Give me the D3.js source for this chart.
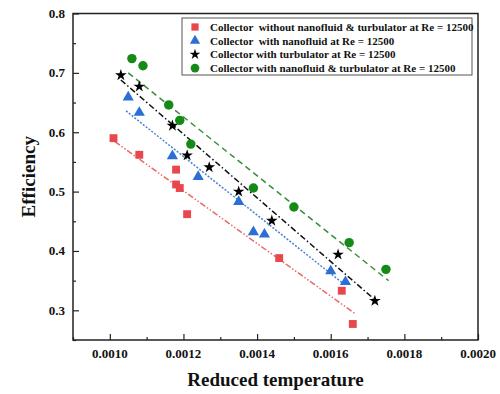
<!DOCTYPE html>
<html lang="en">
<head>
<meta charset="UTF-8">
<title>Efficiency vs reduced temperature</title>
<script src="https://d3js.org/d3.v7.min.js"></script>
<style>
  body { margin: 0; background: #fff; }
  svg text { font-family: "Liberation Serif", "Times New Roman", serif; font-weight: bold; fill: #111; }
  .frame { fill: none; stroke: #222; stroke-width: 1.5px; }
  .tick line { stroke: #222; stroke-width: 1.2px; }
  .legend-box { fill: #fff; stroke: #555; stroke-width: 1px; }
</style>
</head>
<body>
<svg id="chart" width="500" height="394"></svg>
<script>
// reduced temperature / efficiency
var redX   = [0.00101, 0.00108, 0.00118, 0.00118, 0.00119, 0.00121, 0.00146, 0.00163, 0.00166];
var redY   = [0.590, 0.562, 0.537, 0.512, 0.506, 0.462, 0.388, 0.333, 0.277];
var blueX  = [0.00105, 0.00108, 0.00117, 0.00124, 0.00135, 0.00139, 0.00142, 0.00160, 0.00164];
var blueY  = [0.659, 0.633, 0.560, 0.525, 0.483, 0.432, 0.428, 0.366, 0.348];
var blackX = [0.00103, 0.00108, 0.00117, 0.00121, 0.00127, 0.00135, 0.00144, 0.00162, 0.00172];
var blackY = [0.696, 0.677, 0.611, 0.561, 0.541, 0.500, 0.451, 0.394, 0.316];
var greenX = [0.00106, 0.00109, 0.00116, 0.00119, 0.00122, 0.00139, 0.00150, 0.00165, 0.00175];
var greenY = [0.724, 0.712, 0.646, 0.620, 0.580, 0.506, 0.474, 0.414, 0.369];

// fitted lines (start / end points as drawn)
var redFit   = [[0.001014, 0.584], [0.001667, 0.294]];
var blueFit  = [[0.001044, 0.636], [0.001640, 0.342]];
var blackFit = [[0.001030, 0.688], [0.001716, 0.320]];
var greenFit = [[0.001050, 0.700], [0.001757, 0.350]];

var legendLabels = [
  "Collector  without nanofluid & turbulator at Re = 12500",
  "Collector  with nanofluid at Re = 12500",
  "Collector with turbulator at Re = 12500",
  "Collector with nanofluid & turbulator at Re = 12500"
];
var xTicks = [0.0010, 0.0012, 0.0014, 0.0016, 0.0018, 0.0020];
var yTicks = [0.3, 0.4, 0.5, 0.6, 0.7, 0.8];

var svg = d3.select('#chart');
var m = {left: 73, top: 13.5, right: 478, bottom: 340};

var x = d3.scaleLinear().domain([0.0009, 0.0020]).range([m.left, m.right]);
var y = d3.scaleLinear().domain([0.25, 0.8]).range([m.bottom, m.top]);

var series = [
  {xs: redX,   ys: redY,   fit: redFit,   color: '#e8474c', line: '#e86a6a', dash: '6,2,1.5,2,1.5,2', sym: d3.symbolSquare,   size: 62},
  {xs: blueX,  ys: blueY,  fit: blueFit,  color: '#2b6fd4', line: '#4a80d4', dash: '2,1.6',           sym: d3.symbolTriangle, size: 54},
  {xs: blackX, ys: blackY, fit: blackFit, color: '#000',    line: '#111',    dash: '6,2.5,1.5,2.5',   sym: d3.symbolStar,     size: 42},
  {xs: greenX, ys: greenY, fit: greenFit, color: '#168a16', line: '#3d8a3d', dash: '6,4',             sym: d3.symbolCircle,   size: 70}
];

// axes, ticks pointing inward
var xAxis = svg.append('g').attr('transform', 'translate(0,' + m.bottom + ')')
  .call(d3.axisBottom(x).tickValues(d3.range(0.0009, 0.00201, 0.0001)).tickSize(-3).tickFormat(''));
xAxis.selectAll('.tick line').filter(function(d){ return xTicks.some(function(t){ return Math.abs(t - d) < 1e-9; }); })
  .attr('y2', -6);
xAxis.select('.domain').remove();

var yAxis = svg.append('g').attr('transform', 'translate(' + m.left + ',0)')
  .call(d3.axisLeft(y).tickValues(d3.range(0.25, 0.801, 0.05)).tickSize(-3).tickFormat(''));
yAxis.selectAll('.tick line').filter(function(d){ return yTicks.some(function(t){ return Math.abs(t - d) < 1e-9; }); })
  .attr('x2', 6);
yAxis.select('.domain').remove();

svg.append('g').selectAll('text').data(xTicks).enter().append('text')
  .attr('x', function(d){ return x(d); }).attr('y', 358)
  .attr('text-anchor', 'middle').style('font-size', '13px')
  .text(function(d){ return d.toFixed(4); });

svg.append('g').selectAll('text').data(yTicks).enter().append('text')
  .attr('x', 65).attr('y', function(d){ return y(d) + 4.5; })
  .attr('text-anchor', 'end').style('font-size', '13px')
  .text(function(d){ return d.toFixed(1); });

svg.append('rect').attr('class', 'frame')
  .attr('x', m.left).attr('y', m.top)
  .attr('width', m.right - m.left).attr('height', m.bottom - m.top);

svg.append('text').attr('x', (m.left + m.right) / 2).attr('y', 386)
  .attr('text-anchor', 'middle').style('font-size', '19px').text('Reduced temperature');
svg.append('text').attr('transform', 'translate(35,' + ((m.top + m.bottom) / 2) + ') rotate(-90)')
  .attr('text-anchor', 'middle').style('font-size', '19px').text('Efficiency');

// fit lines
svg.append('g').selectAll('line').data(series).enter().append('line')
  .attr('x1', function(d){ return x(d.fit[0][0]); }).attr('y1', function(d){ return y(d.fit[0][1]); })
  .attr('x2', function(d){ return x(d.fit[1][0]); }).attr('y2', function(d){ return y(d.fit[1][1]); })
  .attr('stroke', function(d){ return d.line; })
  .attr('stroke-width', 1.5)
  .attr('stroke-dasharray', function(d){ return d.dash; });

// markers
series.forEach(function(s){
  svg.append('g').selectAll('path').data(d3.range(s.xs.length)).enter().append('path')
    .attr('transform', function(i){ return 'translate(' + x(s.xs[i]) + ',' + y(s.ys[i]) + ')'; })
    .attr('d', d3.symbol().type(s.sym).size(s.size))
    .attr('fill', s.color);
});

// legend
var lg = svg.append('g');
lg.append('rect').attr('class', 'legend-box')
  .attr('x', 182).attr('y', 18).attr('width', 290).attr('height', 57);
series.forEach(function(s, i){
  var cy = 27 + i * 13.7;
  lg.append('path').attr('transform', 'translate(195,' + cy + ')')
    .attr('d', d3.symbol().type(s.sym).size(s.size * 0.85)).attr('fill', s.color);
  lg.append('text').attr('x', 210).attr('y', cy + 4)
    .style('font-size', '11px').style('white-space', 'pre')
    .text(legendLabels[i]);
});
</script>
</body>
</html>
